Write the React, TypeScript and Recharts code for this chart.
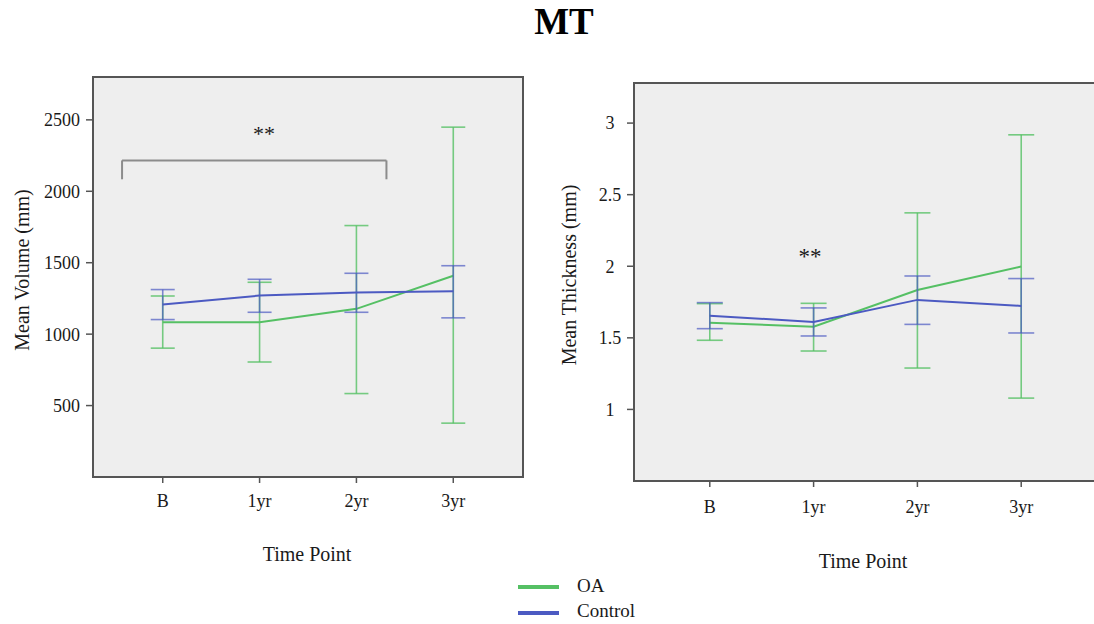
import React from "react";
import {
  LineChart,
  Line,
  XAxis,
  YAxis,
  CartesianGrid,
  ErrorBar,
  ReferenceLine,
  ReferenceDot,
  ReferenceArea,
  Label,
} from "recharts";

// categories
const timePoints = ["B", "1yr", "2yr", "3yr"];
const timeIdx = [0, 1, 2, 3];
const seriesNames = ["OA", "Control"];

// Mean Volume (mm) with 95% CI
const volOAMean = [1084, 1084, 1177, 1409];
const volOALow = [902, 805, 584, 377];
const volOAHigh = [1267, 1363, 1760, 2449];
const volCtlMean = [1207, 1270, 1291, 1300];
const volCtlLow = [1102, 1153, 1153, 1114];
const volCtlHigh = [1312, 1384, 1426, 1479];

// Mean Thickness (mm) with 95% CI
const thkOAMean = [1.606, 1.578, 1.834, 1.998];
const thkOALow = [1.483, 1.408, 1.289, 1.079];
const thkOAHigh = [1.739, 1.741, 2.373, 2.918];
const thkCtlMean = [1.655, 1.611, 1.765, 1.723];
const thkCtlLow = [1.564, 1.513, 1.594, 1.534];
const thkCtlHigh = [1.746, 1.709, 1.932, 1.914];

// axis ticks / domains
const volTicks = [500, 1000, 1500, 2000, 2500];
const volDomain = [0, 2800];
const thkTicks = [1, 1.5, 2, 2.5, 3];
const thkDomain = [0.5, 3.28];

// significance annotations
const volBracketX = [-0.42, 2.31];
const volBracketY = [2084, 2216];
const volStar = { x: 1.046, y: 2404 };
const thkStar = { x: 0.966, y: 2.07 };

const SERIF = '"Liberation Serif", "Times New Roman", serif';
const GREEN = "#55c064";
const BLUE = "#4c5ac2";
const FRAME = "#555555";
const PANEL_BG = "#eeeeee";
const TEXT = "#1a1a1a";

const buildRows = (
  oaMean: number[], oaLow: number[], oaHigh: number[],
  ctlMean: number[], ctlLow: number[], ctlHigh: number[]
) =>
  timeIdx.map((i) => ({
    idx: i,
    oa: oaMean[i],
    oaErr: [oaMean[i] - oaLow[i], oaHigh[i] - oaMean[i]],
    ctl: ctlMean[i],
    ctlErr: [ctlMean[i] - ctlLow[i], ctlHigh[i] - ctlMean[i]],
  }));

const volRows = buildRows(volOAMean, volOALow, volOAHigh, volCtlMean, volCtlLow, volCtlHigh);
const thkRows = buildRows(thkOAMean, thkOALow, thkOAHigh, thkCtlMean, thkCtlLow, thkCtlHigh);

const yTitle = (text: string, x: number, y: number) => () => (
  <text
    x={x}
    y={y}
    transform={`rotate(-90, ${x}, ${y})`}
    textAnchor="middle"
    dominantBaseline="central"
    fontFamily={SERIF}
    fontSize={20}
    fill={TEXT}
  >
    {text}
  </text>
);

const xTitle = (text: string, x: number, y: number) => () => (
  <text x={x} y={y} textAnchor="middle" fontFamily={SERIF} fontSize={20} fill={TEXT}>
    {text}
  </text>
);

const Panel = ({
  rows, width, height, margin, yAxisWidth, yDomain, yTicks, xDomain,
  yTickAnchor, yTickMargin, xTickMargin, yLabel, xLabel, cap, children,
}: any) => (
  <LineChart width={width} height={height} data={rows} margin={margin}>
    <CartesianGrid horizontal={false} vertical={false} fill={PANEL_BG} fillOpacity={1} />
    <ReferenceArea
      x1={xDomain[0]}
      x2={xDomain[1]}
      y1={yDomain[0]}
      y2={yDomain[1]}
      fill="none"
      stroke={FRAME}
      strokeWidth={2}
      ifOverflow="visible"
    />
    <XAxis
      type="number"
      dataKey="idx"
      domain={xDomain}
      ticks={timeIdx}
      interval={0}
      allowDataOverflow
      tickFormatter={(v: number) => timePoints[v]}
      height={40}
      tickSize={6}
      tickMargin={xTickMargin}
      axisLine={{ stroke: FRAME, strokeWidth: 2 }}
      tickLine={{ stroke: FRAME, strokeWidth: 1.5 }}
      tick={{ fill: TEXT, fontSize: 18, fontFamily: SERIF }}
    >
      <Label content={xTitle(xLabel.text, xLabel.x, xLabel.y)} />
    </XAxis>
    <YAxis
      type="number"
      domain={yDomain}
      ticks={yTicks}
      interval={0}
      allowDataOverflow
      width={yAxisWidth}
      tickSize={7}
      tickMargin={yTickMargin}
      axisLine={{ stroke: FRAME, strokeWidth: 2 }}
      tickLine={{ stroke: FRAME, strokeWidth: 1.5 }}
      tick={{ fill: TEXT, fontSize: 18, fontFamily: SERIF, textAnchor: yTickAnchor }}
    >
      <Label content={yTitle(yLabel.text, yLabel.x, yLabel.y)} />
    </YAxis>
    <Line
      type="linear"
      dataKey="oa"
      name={seriesNames[0]}
      stroke={GREEN}
      strokeWidth={2}
      dot={false}
      isAnimationActive={false}
    >
      <ErrorBar dataKey="oaErr" width={cap} stroke={GREEN} strokeOpacity={0.8} strokeWidth={1.6} isAnimationActive={false} />
    </Line>
    <Line
      type="linear"
      dataKey="ctl"
      name={seriesNames[1]}
      stroke={BLUE}
      strokeWidth={2}
      dot={false}
      isAnimationActive={false}
    >
      <ErrorBar dataKey="ctlErr" width={cap} stroke={BLUE} strokeOpacity={0.7} strokeWidth={1.6} isAnimationActive={false} />
    </Line>
    {children}
  </LineChart>
);

export default function App() {
  return (
    <div style={{ position: "absolute", left: 0, top: 0, width: 1094, height: 624, overflow: "hidden", background: "#fff" }}>
      <div style={{ position: "absolute", left: 0, top: 0 }}>
        <Panel
          rows={volRows}
          width={560}
          height={600}
          margin={{ top: 77, right: 37, bottom: 83, left: 0 }}
          yAxisWidth={93}
          yDomain={volDomain}
          yTicks={volTicks}
          xDomain={[-0.72, 3.72]}
          yTickAnchor="end"
          yTickMargin={6}
          xTickMargin={11}
          cap={12}
          yLabel={{ text: "Mean Volume (mm)", x: 22, y: 270 }}
          xLabel={{ text: "Time Point", x: 307, y: 561 }}
        >
          <ReferenceLine
            segment={[{ x: volBracketX[0], y: volBracketY[0] }, { x: volBracketX[0], y: volBracketY[1] }]}
            stroke="#8c8c8c"
            strokeWidth={2}
            ifOverflow="visible"
          />
          <ReferenceLine
            segment={[{ x: volBracketX[0], y: volBracketY[1] }, { x: volBracketX[1], y: volBracketY[1] }]}
            stroke="#8c8c8c"
            strokeWidth={2}
            ifOverflow="visible"
          />
          <ReferenceLine
            segment={[{ x: volBracketX[1], y: volBracketY[1] }, { x: volBracketX[1], y: volBracketY[0] }]}
            stroke="#8c8c8c"
            strokeWidth={2}
            ifOverflow="visible"
          />
          <ReferenceDot
            x={volStar.x}
            y={volStar.y}
            r={0}
            fill="none"
            stroke="none"
            label={{ value: "**", position: "center", fontSize: 22, fontFamily: SERIF, fill: TEXT }}
          />
        </Panel>
      </div>
      <div style={{ position: "absolute", left: 540, top: 0 }}>
        <Panel
          rows={thkRows}
          width={560}
          height={600}
          margin={{ top: 83, right: 3, bottom: 79, left: 0 }}
          yAxisWidth={94}
          yDomain={thkDomain}
          yTicks={thkTicks}
          xDomain={[-0.73, 3.73]}
          yTickAnchor="middle"
          yTickMargin={17}
          xTickMargin={13}
          cap={13}
          yLabel={{ text: "Mean Thickness (mm)", x: 28.5, y: 275 }}
          xLabel={{ text: "Time Point", x: 323, y: 568 }}
        >
          <ReferenceDot
            x={thkStar.x}
            y={thkStar.y}
            r={0}
            fill="none"
            stroke="none"
            label={{ value: "**", position: "center", fontSize: 23, fontFamily: SERIF, fill: TEXT }}
          />
        </Panel>
      </div>
      <svg
        width={1094}
        height={624}
        style={{ position: "absolute", left: 0, top: 0, pointerEvents: "none" }}
      >
        <text x={564} y={34} textAnchor="middle" fontFamily={SERIF} fontWeight="bold" fontSize={37} fill="#000">
          MT
        </text>
        {seriesNames.map((name, i) => (
          <g key={name}>
            <line x1={518} x2={559} y1={587 + i * 26} y2={587 + i * 26} stroke={i === 0 ? GREEN : BLUE} strokeWidth={4} />
            <text x={577} y={592 + i * 25} fontFamily={SERIF} fontSize={19} fill={TEXT}>
              {name}
            </text>
          </g>
        ))}
      </svg>
    </div>
  );
}
